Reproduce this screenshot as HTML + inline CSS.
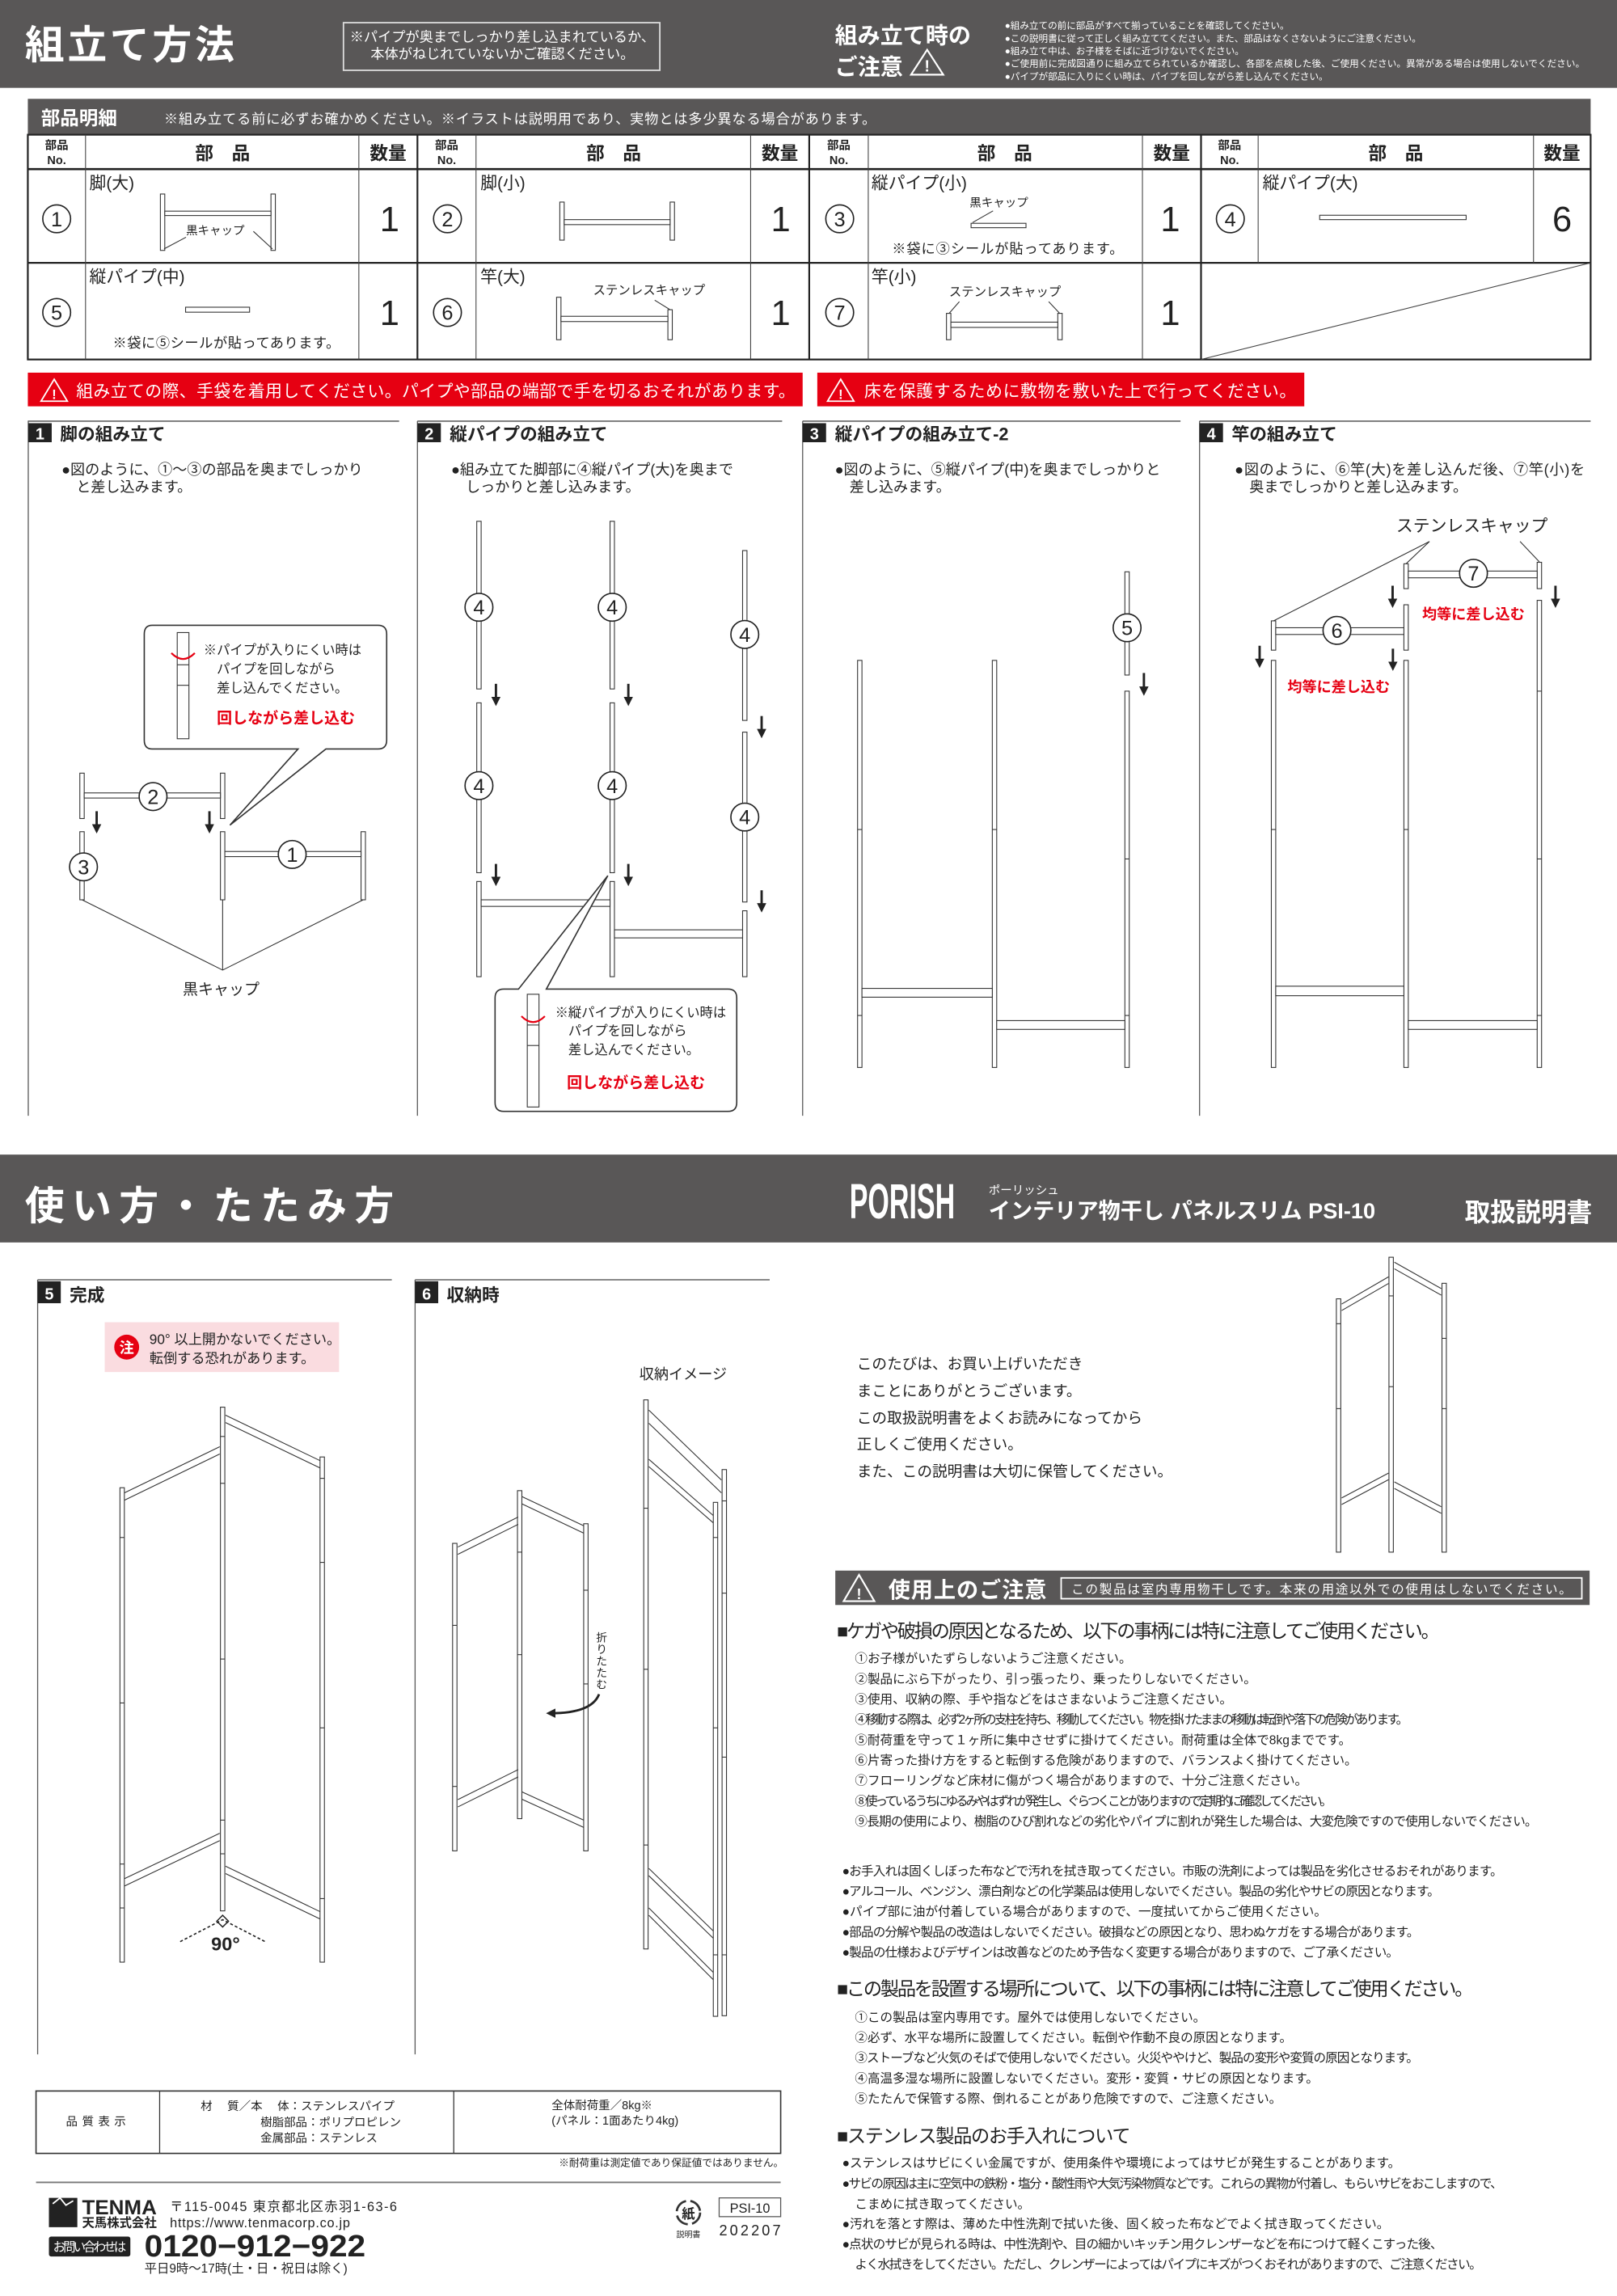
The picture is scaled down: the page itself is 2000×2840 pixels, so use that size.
<!DOCTYPE html>
<html><head><meta charset="utf-8">
<style>
html,body{margin:0;padding:0;background:#fff;}
svg{display:block;font-family:"Liberation Sans","Noto Sans CJK JP",sans-serif;}
.p{fill:#fff;stroke:#333;stroke-width:.6}
.l{stroke:#333;stroke-width:.6;fill:none}
.b{font-weight:bold}
.w{fill:#fff}
.r{fill:#e60012;font-weight:bold}
.t{fill:#222}
</style></head><body>
<svg width="2000" height="2840" viewBox="0 0 1104 1568" preserveAspectRatio="none" xmlns="http://www.w3.org/2000/svg">
<defs>
<marker id="ah" markerWidth="4" markerHeight="4" refX="2" refY="2" orient="auto" markerUnits="strokeWidth"><path d="M0,0 L4,2 L0,4 z" fill="#222"/></marker>
</defs>

<!-- TOP BAND -->
<rect x="0" y="0" width="1104" height="60" fill="#595757"/>
<text x="17" y="40" font-size="27" class="w b" textLength="143">組立て方法</text>
<rect x="234.5" y="15.5" width="216" height="32.5" fill="none" stroke="#ddd" stroke-width="1"/>
<text x="343" y="28.5" font-size="9.5" class="w" text-anchor="middle">※パイプが奥までしっかり差し込まれているか、</text>
<text x="343" y="40" font-size="9.5" class="w" text-anchor="middle">本体がねじれていないかご確認ください。</text>
<text x="570" y="29.5" font-size="15.5" class="w b">組み立て時の</text>
<text x="570" y="51" font-size="15.5" class="w b">ご注意</text>
<path d="M633,34 L644,51 L622,51 Z" fill="none" stroke="#fff" stroke-width="1.2"/>
<text x="633" y="49" font-size="11" class="w b" text-anchor="middle">!</text>
<g font-size="6.4" class="w">
<text x="686" y="19.5">●組み立ての前に部品がすべて揃っていることを確認してください。</text>
<text x="686" y="28.5">●この説明書に従って正しく組み立ててください。また、部品はなくさないようにご注意ください。</text>
<text x="686" y="37">●組み立て中は、お子様をそばに近づけないでください。</text>
<text x="686" y="45.5" textLength="396">●ご使用前に完成図通りに組み立てられているか確認し、各部を点検した後、ご使用ください。異常がある場合は使用しないでください。</text>
<text x="686" y="54.3">●パイプが部品に入りにくい時は、パイプを回しながら差し込んでください。</text>
</g>

<!-- PARTS -->
<rect x="19" y="67.5" width="1067" height="24.5" fill="#595757"/>
<text x="28" y="85" font-size="13" class="w b">部品明細</text>
<text x="112" y="84.5" font-size="9.5" class="w" textLength="486">※組み立てる前に必ずお確かめください。※イラストは説明用であり、実物とは多少異なる場合があります。</text>
<rect x="19" y="92" width="1067" height="153.5" fill="none" stroke="#222" stroke-width="1.2"/>
<line x1="19" y1="115.5" x2="1086" y2="115.5" stroke="#222" stroke-width="1.4"/>
<line x1="19" y1="179.5" x2="1086" y2="179.5" stroke="#222" stroke-width="1.2"/>
<g stroke="#222" stroke-width="1.2"><line x1="285" y1="92" x2="285" y2="245.5"/><line x1="552.5" y1="92" x2="552.5" y2="245.5"/><line x1="820" y1="92" x2="820" y2="245.5"/></g>
<g stroke="#444" stroke-width=".6">
<line x1="58.4" y1="92" x2="58.4" y2="245.5"/><line x1="245" y1="92" x2="245" y2="245.5"/>
<line x1="325" y1="92" x2="325" y2="245.5"/><line x1="512.5" y1="92" x2="512.5" y2="245.5"/>
<line x1="592.8" y1="92" x2="592.8" y2="245.5"/><line x1="780" y1="92" x2="780" y2="245.5"/>
<line x1="859" y1="92" x2="859" y2="179.5"/><line x1="1047" y1="92" x2="1047" y2="179.5"/>
<line x1="820" y1="245.5" x2="1086" y2="179.5"/>
</g>
<g font-size="8" class="t b" text-anchor="middle">
<text x="38.7" y="102">部品</text><text x="38.7" y="112">No.</text>
<text x="305" y="102">部品</text><text x="305" y="112">No.</text>
<text x="572.7" y="102">部品</text><text x="572.7" y="112">No.</text>
<text x="839.5" y="102">部品</text><text x="839.5" y="112">No.</text>
</g>
<g font-size="12.5" class="t b" text-anchor="middle">
<text x="152" y="109">部　品</text><text x="419" y="109">部　品</text><text x="686" y="109">部　品</text><text x="953" y="109">部　品</text>
<text x="265" y="109">数量</text><text x="532.5" y="109">数量</text><text x="800" y="109">数量</text><text x="1066.5" y="109">数量</text>
</g>
<g fill="none" stroke="#222" stroke-width=".9">
<circle cx="38.7" cy="149.4" r="9.5"/><circle cx="305.5" cy="149.4" r="9.5"/><circle cx="573.3" cy="149.4" r="9.5"/><circle cx="840" cy="149.4" r="9.5"/>
<circle cx="38.7" cy="213.4" r="9.5"/><circle cx="305.5" cy="213.4" r="9.5"/><circle cx="573.3" cy="213.4" r="9.5"/>
</g>
<g font-size="14" class="t" text-anchor="middle">
<text x="38.7" y="154.5">1</text><text x="305.5" y="154.5">2</text><text x="573.3" y="154.5">3</text><text x="840" y="154.5">4</text>
<text x="38.7" y="218.5">5</text><text x="305.5" y="218.5">6</text><text x="573.3" y="218.5">7</text>
</g>
<g font-size="24" class="t" text-anchor="middle">
<text x="266" y="158">1</text><text x="533" y="158">1</text><text x="799" y="158">1</text><text x="1066.5" y="158">6</text>
<text x="266" y="222">1</text><text x="533" y="222">1</text><text x="799" y="222">1</text>
</g>
<g font-size="11.5" class="t">
<text x="61" y="129">脚(大)</text><text x="328" y="129">脚(小)</text><text x="595" y="129">縦パイプ(小)</text><text x="862" y="129">縦パイプ(大)</text>
<text x="61" y="193">縦パイプ(中)</text><text x="328" y="193">竿(大)</text><text x="595" y="193">竿(小)</text>
</g>
<!-- part drawings -->
<rect class="p" x="109.5" y="132.5" width="3" height="38.5"/><rect class="p" x="185" y="132.5" width="3" height="38.5"/>
<rect class="p" x="112.5" y="144.2" width="72.5" height="3"/>
<text x="127" y="160" font-size="8" class="t">黒キャップ</text>
<path class="l" d="M127,162 L112,170 M173,158 L186,170"/>
<rect class="p" x="382.2" y="138" width="3" height="26"/><rect class="p" x="457.5" y="138" width="3" height="26"/>
<rect class="p" x="385.2" y="150" width="72.3" height="3.4"/>
<text x="662" y="141" font-size="8" class="t">黒キャップ</text>
<path class="l" d="M678,144 L664,152"/>
<rect class="p" x="663" y="152.5" width="37.5" height="3"/>
<text x="609" y="173" font-size="9.5" class="t" textLength="158">※袋に③シールが貼ってあります。</text>
<rect class="p" x="901" y="147" width="100" height="3"/>
<rect class="p" x="126.7" y="209.8" width="43.7" height="3.4"/>
<text x="77" y="237.5" font-size="9.5" class="t" textLength="155">※袋に⑤シールが貼ってあります。</text>
<text x="405" y="201" font-size="8.5" class="t">ステンレスキャップ</text>
<path class="l" d="M447,205 L457.5,211.5"/>
<rect class="p" x="380" y="203" width="3" height="29"/><rect class="p" x="456" y="211.5" width="3" height="20.5"/>
<rect class="p" x="383" y="216" width="73" height="3.6"/>
<text x="648" y="202" font-size="8.5" class="t">ステンレスキャップ</text>
<path class="l" d="M655,206 L648,214 M716,206 L723.5,214"/>
<rect class="p" x="646.2" y="214" width="3" height="18"/><rect class="p" x="722.2" y="214" width="3" height="18"/>
<rect class="p" x="649.2" y="220" width="73" height="3.6"/>

<!-- RED WARNINGS -->
<rect x="19" y="254.5" width="529" height="23" fill="#e60012"/>
<rect x="558" y="254.5" width="332.5" height="23" fill="#e60012"/>
<path d="M37,259 L46,274 L28,274 Z" fill="none" stroke="#fff" stroke-width="1"/>
<text x="37" y="272.5" font-size="9" class="w b" text-anchor="middle">!</text>
<text x="52" y="271" font-size="11.5" class="w" textLength="491">組み立ての際、手袋を着用してください。パイプや部品の端部で手を切るおそれがあります。</text>
<path d="M574,259 L583,274 L565,274 Z" fill="none" stroke="#fff" stroke-width="1"/>
<text x="574" y="272.5" font-size="9" class="w b" text-anchor="middle">!</text>
<text x="590" y="271" font-size="11.5" class="w" textLength="295">床を保護するために敷物を敷いた上で行ってください。</text>

<!-- STEP HEADERS -->
<g stroke="#777" stroke-width="1">
<line x1="19" y1="287.6" x2="272.5" y2="287.6"/><line x1="285" y1="287.6" x2="534" y2="287.6"/>
<line x1="548" y1="287.6" x2="806" y2="287.6"/><line x1="819" y1="287.6" x2="1086" y2="287.6"/>
</g>
<g stroke="#555" stroke-width=".7">
<line x1="19.3" y1="287.6" x2="19.3" y2="762"/><line x1="285" y1="287.6" x2="285" y2="762"/>
<line x1="548" y1="287.6" x2="548" y2="762"/><line x1="819" y1="287.6" x2="819" y2="762"/>
</g>
<g fill="#222"><rect x="19.3" y="289" width="16" height="13"/><rect x="285" y="289" width="16" height="13"/><rect x="548" y="289" width="16" height="13"/><rect x="819" y="289" width="16" height="13"/></g>
<g font-size="11" class="w b" text-anchor="middle"><text x="27.3" y="300">1</text><text x="293" y="300">2</text><text x="556" y="300">3</text><text x="827" y="300">4</text></g>
<g font-size="12" class="t b">
<text x="41" y="300.5">脚の組み立て</text><text x="307" y="300.5">縦パイプの組み立て</text><text x="570" y="300.5">縦パイプの組み立て-2</text><text x="841" y="300.5">竿の組み立て</text>
</g>
<g font-size="10" class="t">
<text x="42" y="324">●図のように、①〜③の部品を奥までしっかり</text><text x="52" y="336">と差し込みます。</text>
<text x="308" y="324">●組み立てた脚部に④縦パイプ(大)を奥まで</text><text x="318" y="336">しっかりと差し込みます。</text>
<text x="570" y="324">●図のように、⑤縦パイプ(中)を奥までしっかりと</text><text x="580" y="336">差し込みます。</text>
<text x="843" y="324" textLength="239">●図のように、⑥竿(大)を差し込んだ後、⑦竿(小)を</text><text x="853" y="336">奥までしっかりと差し込みます。</text>
</g>

<!-- STEP 1 DRAWING -->
<rect class="p" x="54.5" y="528" width="3" height="31"/><rect class="p" x="150.5" y="528" width="3" height="31"/>
<rect class="p" x="57.5" y="541.5" width="93" height="3.5"/>
<rect class="p" x="54.5" y="568" width="3" height="46.5"/>
<rect class="p" x="150.5" y="568" width="3" height="46.5"/><rect class="p" x="246.5" y="568" width="3" height="46.5"/>
<rect class="p" x="153.5" y="581.5" width="93" height="3.5"/>
<path class="l" d="M56,614.5 L152,662.5 L248,614.5 M152,614.5 L152,662.5"/>
<g fill="#fff" stroke="#222" stroke-width=".9"><circle cx="104.5" cy="544" r="9.5"/><circle cx="57" cy="592" r="9.5"/><circle cx="199.5" cy="583.5" r="9.5"/></g>
<g font-size="14" class="t" text-anchor="middle"><text x="104.5" y="549">2</text><text x="57" y="597">3</text><text x="199.5" y="588.5">1</text></g>
<g stroke="#222" stroke-width="1.6" marker-end="url(#ah)"><line x1="66" y1="554" x2="66" y2="566"/><line x1="143" y1="554" x2="143" y2="566"/></g>
<text x="151" y="679" font-size="10.5" class="t" text-anchor="middle">黒キャップ</text>
<path d="M104,427 H258 Q264,427 264,433 V505.5 Q264,511.5 258,511.5 H222.5 L157,563.5 L203.5,511.5 H104 Q98.5,511.5 98.5,505.5 V433 Q98.5,427 104,427 Z" fill="#fff" stroke="#333" stroke-width=".9"/>
<rect class="p" x="121" y="432" width="8" height="72.5"/>
<line class="l" x1="121" y1="454" x2="129" y2="454"/><line class="l" x1="121" y1="468" x2="129" y2="468"/>
<path d="M117,446 Q125,454 133,446" fill="none" stroke="#e60012" stroke-width="1.2"/>
<g font-size="9" class="t"><text x="139" y="447">※パイプが入りにくい時は</text><text x="148" y="460">パイプを回しながら</text><text x="148" y="473">差し込んでください。</text></g>
<text x="148" y="494" font-size="10.5" class="r">回しながら差し込む</text>

<!-- STEP 2 DRAWING -->
<rect class="p" x="325.5" y="356" width="3" height="114.5"/><rect class="p" x="416.5" y="356" width="3" height="114.5"/>
<rect class="p" x="325.5" y="480" width="3" height="116"/><rect class="p" x="416.5" y="480" width="3" height="116"/>
<rect class="p" x="507" y="376" width="3" height="116"/><rect class="p" x="507" y="500" width="3" height="116"/>
<rect class="p" x="325.5" y="602" width="3" height="65"/><rect class="p" x="416.5" y="602" width="3" height="65"/>
<rect class="p" x="328.5" y="614.5" width="88" height="4.5"/>
<rect class="p" x="507" y="622" width="3" height="45"/>
<rect class="p" x="419.5" y="635" width="87.5" height="5.5"/>
<g fill="#fff" stroke="#222" stroke-width=".9"><circle cx="327" cy="414.7" r="9.5"/><circle cx="418" cy="414.7" r="9.5"/><circle cx="508.5" cy="433.3" r="9.5"/><circle cx="327" cy="536.5" r="9.5"/><circle cx="418" cy="536.5" r="9.5"/><circle cx="508.5" cy="558" r="9.5"/></g>
<g font-size="14" class="t" text-anchor="middle"><text x="327" y="419.7">4</text><text x="418" y="419.7">4</text><text x="508.5" y="438.3">4</text><text x="327" y="541.5">4</text><text x="418" y="541.5">4</text><text x="508.5" y="563">4</text></g>
<g stroke="#222" stroke-width="1.6" marker-end="url(#ah)">
<line x1="338.6" y1="467" x2="338.6" y2="479"/><line x1="429" y1="467" x2="429" y2="479"/><line x1="520" y1="489" x2="520" y2="501"/>
<line x1="338.6" y1="590" x2="338.6" y2="602"/><line x1="429" y1="590" x2="429" y2="602"/><line x1="520" y1="608" x2="520" y2="620"/>
</g>
<path d="M344,675.5 H354 L415,598 L373,675.5 H497 Q503,675.5 503,681.5 V753 Q503,759 497,759 H344 Q338,759 338,753 V681.5 Q338,675.5 344,675.5 Z" fill="#fff" stroke="#333" stroke-width=".9"/>
<rect class="p" x="360" y="679" width="8" height="77"/>
<line class="l" x1="360" y1="700" x2="368" y2="700"/><line class="l" x1="360" y1="714" x2="368" y2="714"/>
<path d="M356,694 Q364,702 372,694" fill="none" stroke="#e60012" stroke-width="1.2"/>
<g font-size="9" class="t"><text x="379" y="694.5">※縦パイプが入りにくい時は</text><text x="388" y="707">パイプを回しながら</text><text x="388" y="720">差し込んでください。</text></g>
<text x="387" y="743" font-size="10.5" class="r">回しながら差し込む</text>

<!-- STEP 3 DRAWING -->
<rect class="p" x="585.5" y="451" width="3" height="278"/><rect class="p" x="677.5" y="451" width="3" height="278"/>
<rect class="p" x="768" y="472" width="3" height="257"/><rect class="p" x="768" y="390.5" width="3" height="70.5"/>
<rect class="p" x="588.5" y="675" width="89" height="6"/><rect class="p" x="680.5" y="697" width="87.5" height="6"/>
<g class="l"><line x1="585.5" y1="566.5" x2="588.5" y2="566.5"/><line x1="677.5" y1="566.5" x2="680.5" y2="566.5"/><line x1="768" y1="586.6" x2="771" y2="586.6"/><line x1="585.5" y1="693.5" x2="588.5" y2="693.5"/><line x1="768" y1="693.5" x2="771" y2="693.5"/></g>
<circle cx="769.5" cy="428.7" r="9.5" fill="#fff" stroke="#222" stroke-width=".9"/>
<text x="769.5" y="433.7" font-size="14" class="t" text-anchor="middle">5</text>
<line x1="781" y1="459.6" x2="781" y2="472" stroke="#222" stroke-width="1.6" marker-end="url(#ah)"/>

<!-- STEP 4 DRAWING -->
<rect class="p" x="868" y="451" width="3" height="278"/><rect class="p" x="958.5" y="451" width="3" height="278"/>
<rect class="p" x="1049.5" y="410" width="3" height="319"/>
<rect class="p" x="871" y="673.5" width="87.5" height="6.5"/><rect class="p" x="961.5" y="697" width="88" height="6"/>
<g class="l"><line x1="868" y1="566.5" x2="871" y2="566.5"/><line x1="958.5" y1="566.5" x2="961.5" y2="566.5"/><line x1="1049.5" y1="472" x2="1052.5" y2="472"/><line x1="1049.5" y1="586.6" x2="1052.5" y2="586.6"/><line x1="1049.5" y1="693.5" x2="1052.5" y2="693.5"/></g>
<rect class="p" x="868" y="424" width="3" height="20"/><rect class="p" x="958.5" y="413" width="3" height="31"/>
<rect class="p" x="871" y="428.7" width="87.5" height="4.6"/>
<rect class="p" x="958.5" y="385" width="3" height="17"/><rect class="p" x="1049.5" y="384" width="3" height="18"/>
<rect class="p" x="961.5" y="390" width="88" height="4.6"/>
<g fill="#fff" stroke="#222" stroke-width=".9"><circle cx="912.8" cy="430.5" r="9.5"/><circle cx="1006" cy="391.5" r="9.5"/></g>
<g font-size="14" class="t" text-anchor="middle"><text x="912.8" y="435.5">6</text><text x="1006" y="396.5">7</text></g>
<text x="1005" y="363" font-size="11.5" class="t" text-anchor="middle">ステンレスキャップ</text>
<path class="l" d="M976,369.8 L960,385 M976,369.8 L869.5,424 M1037.8,369.8 L1051,383.7"/>
<text x="971" y="423" font-size="10" class="r">均等に差し込む</text>
<text x="879" y="472.5" font-size="10" class="r">均等に差し込む</text>
<g stroke="#222" stroke-width="1.6" marker-end="url(#ah)">
<line x1="950.8" y1="400" x2="950.8" y2="412"/><line x1="1062" y1="400" x2="1062" y2="412"/>
<line x1="860" y1="441" x2="860" y2="453"/><line x1="951" y1="443" x2="951" y2="455"/>
</g>

<!-- MIDDLE BAND -->
<rect x="0" y="788.5" width="1104" height="60" fill="#595757"/>
<text x="17" y="833" font-size="27" class="w b" textLength="252">使い方・たたみ方</text>
<text x="580" y="832" font-size="34" class="w b" textLength="72" lengthAdjust="spacingAndGlyphs">PORISH</text>
<text x="675" y="815.5" font-size="8" class="w">ポーリッシュ</text>
<text x="675" y="832" font-size="15" class="w b" textLength="264">インテリア物干し パネルスリム PSI-10</text>
<text x="1000" y="834" font-size="17.5" class="w b" textLength="87">取扱説明書</text>

<!-- STEP 5/6 HEADERS -->
<g stroke="#777" stroke-width="1"><line x1="25.7" y1="874" x2="267.5" y2="874"/><line x1="283.4" y1="874" x2="525.5" y2="874"/></g>
<g stroke="#555" stroke-width=".7"><line x1="25.7" y1="874" x2="25.7" y2="1403"/><line x1="283.4" y1="874" x2="283.4" y2="1403"/></g>
<rect x="25.7" y="875" width="15.8" height="15" fill="#222"/><rect x="283.4" y="875" width="15.8" height="15" fill="#222"/>
<text x="33.6" y="887.5" font-size="11" class="w b" text-anchor="middle">5</text>
<text x="291.3" y="887.5" font-size="11" class="w b" text-anchor="middle">6</text>
<text x="47.5" y="888.5" font-size="12" class="t b">完成</text>
<text x="305" y="888.5" font-size="12" class="t b">収納時</text>
<rect x="71.5" y="903" width="160" height="34" fill="#fadce0"/>
<circle cx="86.5" cy="920" r="8.5" fill="#e60012"/>
<text x="86.5" y="924" font-size="10" class="w b" text-anchor="middle">注</text>
<text x="102" y="918" font-size="9.5" class="t">90° 以上開かないでください。</text>
<text x="102" y="931" font-size="9.5" class="t">転倒する恐れがあります。</text>

<!-- STEP 5 DRAWING -->
<rect class="p" x="81.9" y="1016" width="3" height="324"/><rect class="p" x="150.5" y="961" width="3" height="344"/><rect class="p" x="218.5" y="995" width="3" height="345"/>
<g class="l">
<line x1="81.9" y1="1050" x2="84.9" y2="1050"/><line x1="81.9" y1="1163" x2="84.9" y2="1163"/><line x1="81.9" y1="1273" x2="84.9" y2="1273"/><line x1="81.9" y1="1303" x2="84.9" y2="1303"/>
<line x1="150.5" y1="981" x2="153.5" y2="981"/><line x1="150.5" y1="1013" x2="153.5" y2="1013"/><line x1="150.5" y1="1133" x2="153.5" y2="1133"/><line x1="150.5" y1="1243" x2="153.5" y2="1243"/><line x1="150.5" y1="1266" x2="153.5" y2="1266"/>
<line x1="218.5" y1="1009.6" x2="221.5" y2="1009.6"/><line x1="218.5" y1="1067" x2="221.5" y2="1067"/><line x1="218.5" y1="1180" x2="221.5" y2="1180"/><line x1="218.5" y1="1296.6" x2="221.5" y2="1296.6"/>
<path d="M85,1019.5 L150,988 M85,1024.5 L150,993"/>
<path d="M85,1283 L150,1252 M85,1288 L150,1257"/>
<path d="M154,966.5 L218.5,997.5 M154,971.5 L218.5,1002.5"/>
<path d="M154,1274.5 L218.5,1305.5 M154,1279.5 L218.5,1310.5"/>
</g>
<path d="M123,1326 L152,1311 L181,1326" fill="none" stroke="#222" stroke-width=".9" stroke-dasharray="2,1.5"/>
<path d="M148,1312 L152,1308 L156,1312 L152,1316 Z" fill="none" stroke="#222" stroke-width=".8"/>
<text x="154" y="1332" font-size="13" class="t b" text-anchor="middle">90°</text>

<!-- STEP 6 DRAWING -->
<rect class="p" x="309" y="1054" width="3" height="210"/><rect class="p" x="353.3" y="1018" width="3" height="224"/><rect class="p" x="398.5" y="1040.6" width="3" height="223.4"/>
<g class="l">
<path d="M312.6,1056.5 L353.8,1036 M312.6,1061.5 L353.8,1041"/>
<path d="M312.6,1229 L353.8,1208.5 M312.6,1234 L353.8,1213.5"/>
<path d="M356.3,1022 L398.5,1042 M356.3,1027 L398.5,1047"/>
<path d="M356.3,1223.7 L398.5,1243 M356.3,1228.7 L398.5,1248"/>
<line x1="309" y1="1110" x2="312" y2="1110"/><line x1="309" y1="1220" x2="312" y2="1220"/><line x1="353.3" y1="1060" x2="356.3" y2="1060"/><line x1="353.3" y1="1130" x2="356.3" y2="1130"/><line x1="398.5" y1="1086" x2="401.5" y2="1086"/><line x1="398.5" y1="1150" x2="401.5" y2="1150"/>
</g>
<g font-size="7.5" class="t" text-anchor="middle">
<text x="410.8" y="1121">折</text><text x="410.8" y="1129">り</text><text x="410.8" y="1137">た</text><text x="410.8" y="1145">た</text><text x="410.8" y="1153">む</text>
</g>
<path d="M409,1157 Q404,1170 376,1170" fill="none" stroke="#222" stroke-width="1.6" marker-end="url(#ah)"/>
<text x="436.5" y="942" font-size="10" class="t">収納イメージ</text>
<rect class="p" x="439.5" y="956" width="3" height="375"/><rect class="p" x="487" y="1026" width="3" height="351"/><rect class="p" x="493" y="1003.6" width="3" height="373"/>
<g class="l">
<path d="M443,963 L492.5,1010.7 M443,972 L492.5,1019.5 M443,996.6 L487,1035 M443,1001.6 L487,1040"/>
<path d="M443,1276 L487,1318.7 M443,1281 L487,1323.7 M443,1303 L487,1347 M443,1308 L487,1352"/>
<line x1="439.5" y1="1030" x2="442.5" y2="1030"/><line x1="439.5" y1="1140" x2="442.5" y2="1140"/><line x1="439.5" y1="1260" x2="442.5" y2="1260"/>
<line x1="487" y1="1050" x2="490" y2="1050"/><line x1="487" y1="1180" x2="490" y2="1180"/><line x1="487" y1="1335" x2="490" y2="1335"/>
<line x1="493" y1="1025" x2="496" y2="1025"/><line x1="493" y1="1088" x2="496" y2="1088"/><line x1="493" y1="1200" x2="496" y2="1200"/><line x1="493" y1="1335" x2="496" y2="1335"/>
</g>

<!-- INTRO -->
<g font-size="10.3" class="t">
<text x="585" y="935">このたびは、お買い上げいただき</text>
<text x="585" y="953.5">まことにありがとうございます。</text>
<text x="585" y="972">この取扱説明書をよくお読みになってから</text>
<text x="585" y="990">正しくご使用ください。</text>
<text x="585" y="1008.5">また、この説明書は大切に保管してください。</text>
</g>
<rect class="p" x="912.4" y="887" width="3" height="173"/><rect class="p" x="948.3" y="858.6" width="3" height="201.4"/><rect class="p" x="984.5" y="876.4" width="3" height="183.6"/>
<g class="l">
<path d="M916,890.6 L948,872 M916,895 L948,876.5"/>
<path d="M952,862 L984,880 M952,866.5 L984,884.5"/>
<path d="M916,1023 L948,1006 M916,1027.5 L948,1010.5"/>
<path d="M952,1012 L984,1029 M952,1016.5 L984,1033.5"/>
<line x1="912.4" y1="904" x2="915.4" y2="904"/><line x1="912.4" y1="962" x2="915.4" y2="962"/><line x1="948.3" y1="885" x2="951.3" y2="885"/><line x1="948.3" y1="947" x2="951.3" y2="947"/><line x1="984.5" y1="914" x2="987.5" y2="914"/><line x1="984.5" y1="962" x2="987.5" y2="962"/>
</g>

<!-- USAGE NOTES -->
<rect x="570.3" y="1072.6" width="515" height="23.5" fill="#595757"/>
<path d="M586.5,1075.5 L597,1093.5 L576,1093.5 Z" fill="none" stroke="#fff" stroke-width="1.2"/>
<text x="586.5" y="1092" font-size="10" class="w b" text-anchor="middle">!</text>
<text x="606.5" y="1091" font-size="15" class="w b" textLength="108">使用上のご注意</text>
<rect x="724.5" y="1077.6" width="355.5" height="14.2" fill="none" stroke="#fff" stroke-width="1"/>
<text x="731.5" y="1088.3" font-size="8.6" class="w" textLength="341.5">この製品は室内専用物干しです。本来の用途以外での使用はしないでください。</text>
<g class="t">
<text x="571.4" y="1118.3" font-size="12.8" textLength="411.6">■ケガや破損の原因となるため、以下の事柄には特に注意してご使用ください。</text>
<g font-size="8.6">
<text x="583.7" y="1135.5">①お子様がいたずらしないようご注意ください。</text>
<text x="583.7" y="1149.4">②製品にぶら下がったり、引っ張ったり、乗ったりしないでください。</text>
<text x="583.7" y="1163.3">③使用、収納の際、手や指などをはさまないようご注意ください。</text>
<text x="583.7" y="1177.2" textLength="378">④移動する際は、必ず2ヶ所の支柱を持ち、移動してください。物を掛けたままの移動は転倒や落下の危険があります。</text>
<text x="583.7" y="1191.1">⑤耐荷重を守って１ヶ所に集中させずに掛けてください。耐荷重は全体で8kgまでです。</text>
<text x="583.7" y="1205">⑥片寄った掛け方をすると転倒する危険がありますので、バランスよく掛けてください。</text>
<text x="583.7" y="1218.9">⑦フローリングなど床材に傷がつく場合がありますので、十分ご注意ください。</text>
<text x="583.7" y="1232.8" textLength="326">⑧使っているうちにゆるみやはずれが発生し、ぐらつくことがありますので定期的に確認してください。</text>
<text x="583.7" y="1246.7" textLength="466">⑨長期の使用により、樹脂のひび割れなどの劣化やパイプに割れが発生した場合は、大変危険ですので使用しないでください。</text>
<text x="575" y="1280.5" textLength="451">●お手入れは固くしぼった布などで汚れを拭き取ってください。市販の洗剤によっては製品を劣化させるおそれがあります。</text>
<text x="575" y="1294.4" textLength="408">●アルコール、ベンジン、漂白剤などの化学薬品は使用しないでください。製品の劣化やサビの原因となります。</text>
<text x="575" y="1308.3">●パイプ部に油が付着している場合がありますので、一度拭いてからご使用ください。</text>
<text x="575" y="1322.2" textLength="394">●部品の分解や製品の改造はしないでください。破損などの原因となり、思わぬケガをする場合があります。</text>
<text x="575" y="1336.1" textLength="380">●製品の仕様およびデザインは改善などのため予告なく変更する場合がありますので、ご了承ください。</text>
</g>
<text x="571.4" y="1362.6" font-size="12.8" textLength="434.6">■この製品を設置する場所について、以下の事柄には特に注意してご使用ください。</text>
<g font-size="8.6">
<text x="583.7" y="1380.5">①この製品は室内専用です。屋外では使用しないでください。</text>
<text x="583.7" y="1394.4">②必ず、水平な場所に設置してください。転倒や作動不良の原因となります。</text>
<text x="583.7" y="1408.3" textLength="385">③ストーブなど火気のそばで使用しないでください。火災ややけど、製品の変形や変質の原因となります。</text>
<text x="583.7" y="1422.2">④高温多湿な場所に設置しないでください。変形・変質・サビの原因となります。</text>
<text x="583.7" y="1436.1">⑤たたんで保管する際、倒れることがあり危険ですので、ご注意ください。</text>
</g>
<text x="571.4" y="1463.2" font-size="12.8" textLength="200.6">■ステンレス製品のお手入れについて</text>
<g font-size="8.6">
<text x="575" y="1480">●ステンレスはサビにくい金属ですが、使用条件や環境によってはサビが発生することがあります。</text>
<text x="575" y="1494" textLength="451">●サビの原因は主に空気中の鉄粉・塩分・酸性雨や大気汚染物質などです。これらの異物が付着し、もらいサビをおこしますので、</text>
<text x="583.7" y="1508">こまめに拭き取ってください。</text>
<text x="575" y="1521.5">●汚れを落とす際は、薄めた中性洗剤で拭いた後、固く絞った布などでよく拭き取ってください。</text>
<text x="575" y="1535.4" textLength="410">●点状のサビが見られる時は、中性洗剤や、目の細かいキッチン用クレンザーなどを布につけて軽くこすった後、</text>
<text x="583.7" y="1549.3" textLength="428">よく水拭きをしてください。ただし、クレンザーによってはパイプにキズがつくおそれがありますので、ご注意ください。</text>
</g>
</g>

<!-- QUALITY TABLE -->
<rect x="24.6" y="1428" width="508.4" height="42.6" fill="none" stroke="#333" stroke-width=".9"/>
<line x1="109" y1="1428" x2="109" y2="1470.6" stroke="#333" stroke-width=".7"/>
<line x1="309.8" y1="1428" x2="309.8" y2="1470.6" stroke="#333" stroke-width=".7"/>
<g class="t" font-size="8">
<text x="67" y="1451.5" text-anchor="middle" letter-spacing="3">品質表示</text>
<text x="137" y="1441">材　 質／本　 体：ステンレスパイプ</text>
<text x="177.8" y="1452">樹脂部品：ポリプロピレン</text>
<text x="177.8" y="1462.7">金属部品：ステンレス</text>
<text x="376.6" y="1440.5">全体耐荷重／8kg※</text>
<text x="376.6" y="1451">(パネル：1面あたり4kg)</text>
</g>
<text x="535" y="1479.3" font-size="7" class="t" text-anchor="end">※耐荷重は測定値であり保証値ではありません。</text>
<line x1="24.6" y1="1490.4" x2="533" y2="1490.4" stroke="#777" stroke-width="1"/>

<!-- FOOTER -->
<path d="M33.4,1501 H52.8 V1521 H33.4 Z" fill="#222"/>
<path d="M36,1505 L41,1501 L45,1506 L50,1503" fill="none" stroke="#fff" stroke-width="1"/>
<text x="56" y="1512.3" font-size="14" class="t b" textLength="51" lengthAdjust="spacingAndGlyphs">TENMA</text>
<text x="56" y="1520.8" font-size="8.5" class="t b" textLength="51">天馬株式会社</text>
<text x="116" y="1510" font-size="9" class="t" textLength="155">〒115-0045 東京都北区赤羽1-63-6</text>
<text x="116" y="1521" font-size="9" class="t" textLength="123">https://www.tenmacorp.co.jp</text>
<rect x="33.4" y="1527.4" width="55.6" height="13.6" rx="1.5" fill="#222"/>
<text x="61.2" y="1537.5" font-size="8.5" class="w" text-anchor="middle" textLength="50">お問い合わせは</text>
<text x="98.6" y="1541" font-size="21" class="t b" textLength="151" lengthAdjust="spacingAndGlyphs">0120−912−922</text>
<text x="98.6" y="1552" font-size="8.5" class="t">平日9時〜17時(土・日・祝日は除く)</text>
<circle cx="470" cy="1511" r="8" fill="none" stroke="#333" stroke-width="1.5" stroke-dasharray="10,3"/>
<text x="470" y="1515" font-size="9" class="t b" text-anchor="middle">紙</text>
<text x="470" y="1528" font-size="5.5" class="t" text-anchor="middle">説明書</text>
<rect x="491" y="1501" width="42" height="12.8" fill="none" stroke="#555" stroke-width=".7"/>
<text x="512" y="1511" font-size="9" class="t" text-anchor="middle">PSI-10</text>
<text x="491" y="1526.5" font-size="10" class="t" textLength="42">202207</text>
</svg>
</body></html>
